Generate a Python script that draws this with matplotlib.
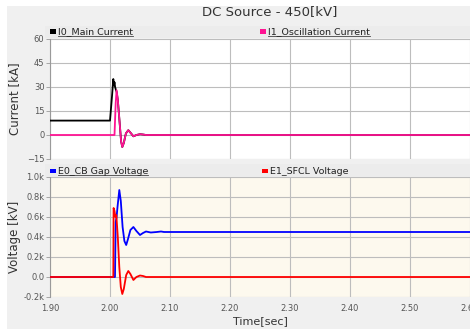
import matplotlib.pyplot as plt
from matplotlib.patches import Rectangle
from matplotlib.lines import Line2D

# I1 oscillation current [kA]
t_i1 = [1.90, 2.0075, 2.0095, 2.011, 2.013, 2.016, 2.0185, 2.0205, 2.023,
        2.0265, 2.0305, 2.034, 2.039, 2.044, 2.050, 2.055, 2.060, 2.60]
i1 = [0, 0, 20, 28, 22, 8, -4, -7.5, -5, 1, 3, 1.5, -0.8, 0, 0.5, 0.3, 0, 0]

# I0 main current [kA]
t_i0 = [1.90, 2.000, 2.0035, 2.0055, 2.0065, 2.0075, 2.0085, 2.010, 2.011,
        2.013, 2.016, 2.0185, 2.0205, 2.023, 2.0265, 2.0305, 2.034, 2.039,
        2.044, 2.050, 2.055, 2.060, 2.60]
i0 = [9, 9, 25, 35, 31, 33, 30, 28, 27, 22, 8, -4, -7.5, -5, 1, 3, 1.5, -0.8,
      0, 0.5, 0.3, 0, 0]

# E0 CB gap voltage [kV]
t_e0 = [1.90, 2.0083, 2.0095, 2.011, 2.0125, 2.0155, 2.018, 2.021, 2.024,
        2.027, 2.030, 2.034, 2.039, 2.044, 2.050, 2.055, 2.060, 2.068, 2.078,
        2.085, 2.090, 2.60]
e0 = [0, 0, 0.55, 0.6, 0.7, 0.87, 0.76, 0.5, 0.36, 0.32, 0.38, 0.47, 0.50,
      0.46, 0.42, 0.44, 0.455, 0.445, 0.45, 0.455, 0.45, 0.45]

# E1 SFCL voltage [kV]
t_e1 = [1.90, 2.0055, 2.006, 2.0075, 2.009, 2.0105, 2.013, 2.0155, 2.018,
        2.0205, 2.023, 2.027, 2.0305, 2.034, 2.039, 2.044, 2.050, 2.055,
        2.060, 2.60]
e1 = [0, 0, 0.69, 0.66, 0.6, 0.62, 0.4, 0.1, -0.1, -0.17, -0.12, 0.02, 0.06,
      0.03, -0.03, 0, 0.015, 0.01, 0, 0]

x_ticks = [1.90, 2.00, 2.10, 2.20, 2.30, 2.40, 2.50, 2.60]
i_ticks = [60, 45, 30, 15, 0, -15]
v_ticks = [1.0, 0.8, 0.6, 0.4, 0.2, 0.0, -0.2]
v_labels = ['1.0k', '0.8k', '0.6k', '0.4k', '0.2k', '0.0', '-0.2k']

W, H = 470, 329
fig = plt.figure(figsize=(W / 100, H / 100), dpi=100, facecolor='white')
fig.patches.append(Rectangle((7 / W, 0), 1, 1 - 6 / H, transform=fig.transFigure,
                             facecolor='#f0f0f0', edgecolor='none', zorder=-2))


def px_axes(left, top, right, bottom):
    return fig.add_axes([left / W, 1 - bottom / H, (right - left) / W, (bottom - top) / H])


ax1 = px_axes(50, 39, 470, 159)
ax2 = px_axes(50, 177, 470, 297)
ax1.set_facecolor('white')
ax2.set_facecolor('#fdf9ee')

for ax in (ax1, ax2):
    ax.set_xlim(1.90, 2.60)
    ax.set_xticks(x_ticks)
    ax.grid(True, color='#bdbdbd', lw=0.8)
    ax.set_axisbelow(True)
    for s in ax.spines.values():
        s.set_visible(False)
    ax.spines['left'].set_visible(True)
    ax.spines['left'].set_color('#9a9a9a')
    ax.tick_params(axis='y', labelsize=6, colors='#9a9a9a', labelcolor='#555555',
                   length=3, width=0.6, pad=1)
    ax.tick_params(axis='x', length=0, labelsize=6, labelcolor='#555555', pad=5)

ax1.set_ylim(-15, 60)
ax1.set_yticks(i_ticks)
ax1.set_xticklabels([])
ax1.set_ylabel('Current [kA]', fontsize=8.5, color='#333333', labelpad=4)

ax2.set_ylim(-0.2, 1.0)
ax2.set_yticks(v_ticks)
ax2.set_yticklabels(v_labels)
ax2.set_xticklabels(['%.2f' % v for v in x_ticks])
ax2.set_ylabel('Voltage [kV]', fontsize=8.5, color='#333333', labelpad=2)
ax2.set_xlabel('Time[sec]', fontsize=8, color='#333333', labelpad=2)

ax1.plot(t_i0, i0, color='black', lw=1.3, zorder=3)
ax1.plot(t_i1, i1, color='#ff1493', lw=1.3, zorder=4)
ax2.plot(t_e0, e0, color='#0000ff', lw=1.3, zorder=3)
ax2.plot(t_e1, e1, color='#ff0000', lw=1.3, zorder=4)

fig.text(270 / W, 1 - 12 / H, 'DC Source - 450[kV]', fontsize=9.5, color='#333333',
         ha='center', va='center')

# legend strips above each plot
for y0, y1 in ((26, 38), (164, 177)):
    fig.patches.append(Rectangle((45 / W, 1 - y1 / H), 1, (y1 - y0) / H,
                                 transform=fig.transFigure, facecolor='#ececec',
                                 edgecolor='none', zorder=1))

entries = [
    (50, 32, 'black', 'I0_Main Current', True),
    (260, 32, '#ff1493', 'I1_Oscillation Current', True),
    (50, 171, '#0000ff', 'E0_CB Gap Voltage', True),
    (262, 171, '#ff0000', 'E1_SFCL Voltage', False),
]
texts = []
for x, y, c, label, ul in entries:
    fig.patches.append(Rectangle(((x - 0.5) / W, 1 - (y + 2) / H), 6 / W, 4.5 / H,
                                 transform=fig.transFigure, facecolor=c,
                                 edgecolor='none', zorder=5))
    t = fig.text((x + 8) / W, 1 - y / H, label, fontsize=6.8, color='#222222',
                 ha='left', va='center', zorder=6)
    texts.append((t, ul))

fig.canvas.draw()
r = fig.canvas.get_renderer()
for t, ul in texts:
    if not ul:
        continue
    bb = t.get_window_extent(renderer=r).transformed(fig.transFigure.inverted())
    fig.lines.append(Line2D([bb.x0, bb.x1], [bb.y0 + 0.3 / H, bb.y0 + 0.3 / H],
                            transform=fig.transFigure, color='#444444', lw=0.6,
                            zorder=6))

fig.savefig('out.png', dpi=100, facecolor=fig.get_facecolor())
